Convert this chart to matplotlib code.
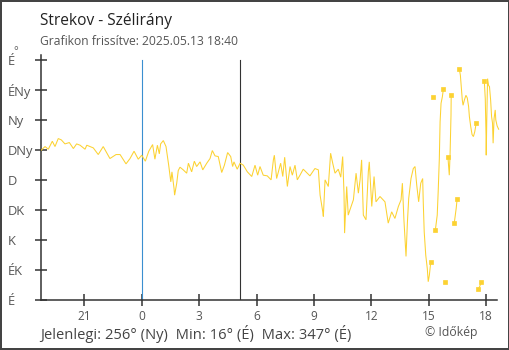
import numpy as np
import matplotlib
matplotlib.use("Agg")
import matplotlib.pyplot as plt

# ---- data (hours relative to midnight, wind direction in degrees; NaN = gap)
hours = [
    -5.31, -5.05, -4.88, -4.67, -4.53, -4.36, -4.20, -4.01, -3.78, -3.57, -3.40, -3.22,
    -2.96, -2.87, -2.53, -2.27, -2.01, -1.66, -1.34, -1.13, -0.82, -0.61, -0.40, -0.18,
    0.00, 0.19, 0.37, 0.57, 0.69, 0.82, 0.92, 0.99, 1.13, 1.27, 1.41, 1.52, 1.58, 1.69,
    1.72, 1.83, 1.91, 2.00, 2.17, 2.35, 2.44, 2.61, 2.75, 2.87, 3.05, 3.19, 3.40, 3.57,
    3.69, 3.83, 4.00, 4.18, 4.32, 4.49, 4.65, 4.75, 4.82, 4.99, 5.14, 5.31, 5.52, 5.75,
    5.92, 6.06, 6.18, 6.35, 6.56, 6.76, 6.88, 6.93, 7.05, 7.26, 7.37, 7.47, 7.61, 7.75,
    7.87, 8.01, 8.13, 8.27, 8.44, 8.79, 9.05, 9.23, 9.32, 9.46, 9.49, 9.58, 9.75, 9.87,
    9.98, 10.10, 10.27, 10.40, 10.50, 10.57, 10.60, 10.71, 10.79, 10.88, 11.06, 11.20,
    11.32, 11.41, 11.49, 11.58, 11.72, 11.84, 11.89, 12.02, 12.14, 12.24, 12.45, 12.71,
    12.88, 13.06, 13.23, 13.41, 13.55, 13.62, 13.70, 13.81, 13.88, 13.95, 14.07, 14.19,
    14.28, 14.37, 14.47, 14.58, 14.68, 14.71, 14.76, 14.84, 14.92, 14.97, 15.03, 15.10,
    15.17,
    15.24,
    15.29,
    15.34, 15.44, 15.49, 15.55, 15.59, 15.64, 15.71, 15.76,
    15.80,
    15.85,
    15.92,
    16.00, 16.07, 16.11, 16.16, 16.17,
    16.25,
    16.33, 16.43, 16.48,
    16.54,
    16.59, 16.65, 16.70, 16.75, 16.79, 16.86, 16.94, 17.01, 17.08, 17.12, 17.19, 17.26,
    17.33, 17.40, 17.48,
    17.54,
    17.59, 17.66, 17.74,
    17.82,
    17.90, 17.95, 17.99, 18.00, 18.03, 18.07, 18.12, 18.17, 18.23, 18.28, 18.33, 18.36,
    18.41, 18.47, 18.50, 18.57, 18.65,
]
degrees = [
    223, 230, 226, 238, 230, 242, 240, 234, 236, 227, 234, 232,
    226, 232, 228, 218, 230, 212, 218, 218, 204, 212, 223, 211,
    217, 208, 223, 233, 211, 232, 219, 234, 239, 230, 202, 177, 192, 167,
    157, 175, 194, 199, 195, 190, 205, 192, 208, 200, 207, 195, 205, 212,
    224, 216, 215, 191, 202, 221, 215, 200, 207, 196, 205, 202, 192, 185,
    202, 187, 200, 187, 186, 180, 210, 217, 182, 205, 185, 214, 170, 200,
    187, 202, 180, 187, 196, 186, 197, 195, 157, 132, 125, 180, 170, 220,
    205, 190, 196, 184, 215, 160, 100, 170, 127, 135, 150, 190,
    160, 180, 210, 127, 120, 192, 207, 140, 185, 147, 155, 147,
    115, 132, 122, 140, 150, 175, 120, 65, 115, 152, 182, 197,
    200, 172, 147, 175, 182, 147, 102, 67, 47, 27, 37, 56,
    np.nan,
    305,
    np.nan,
    104, 127, 162, 212, 267, 295, 305, 316,
    np.nan,
    27,
    np.nan,
    214, 187, 217, 277, 307,
    np.nan,
    115, 137, 151,
    np.nan,
    347, 337, 318, 300, 292, 300, 307, 303, 290, 275, 260, 248,
    245, 252, 266,
    np.nan,
    16, 20, 26,
    np.nan,
    328, 302, 247, 217, 272, 332, 322, 320, 300, 275, 265, 235,
    272, 285, 270, 261, 256,
]

direction_ticks = [0, 45, 90, 135, 180, 225, 270, 315, 360]
direction_labels = ["É", "ÉK", "K", "DK", "D", "DNy", "Ny", "ÉNy", "É"]
hour_ticks = [-3, 0, 3, 6, 9, 12, 15, 18]
hour_labels = ["21", "0", "3", "6", "9", "12", "15", "18"]
midnight = 0.0
marker_time = 5.14

title = "Strekov - Szélirány"
subtitle = "Grafikon frissítve: 2025.05.13 18:40"
footer = "Jelenlegi: 256° (Ny)  Min: 16° (É)  Max: 347° (É)"
credit = "© Időkép"

# ---- figure
plt.rcParams['font.family'] = ['Open Sans', 'DejaVu Sans']
W, H = 510, 350
fig = plt.figure(figsize=(W / 100, H / 100), dpi=100)
fig.patch.set_facecolor('white')
fig.patch.set_edgecolor('#444444')
fig.patch.set_linewidth(1.5)

left_px, right_px, top_px, bottom_px = 41, 500, 55, 299.7
ax = fig.add_axes([left_px / W, (H - bottom_px) / H,
                   (right_px - left_px) / W, (bottom_px - top_px) / H])

t = np.array(hours, dtype=float)
d = np.array(degrees, dtype=float)
line_color = '#fcd232'
ax.plot(t, d, color=line_color, lw=0.75, solid_joinstyle='miter', zorder=3)

# markers on points next to gaps
isn = np.isnan(d)
mk = np.zeros(len(d), dtype=bool)
for i in range(len(d)):
    if isn[i]:
        continue
    if (i > 0 and isn[i - 1]) or (i < len(d) - 1 and isn[i + 1]):
        mk[i] = True
ax.plot(t[mk], d[mk], linestyle='none', marker='s', ms=2.3, color=line_color,
        mec=line_color, mew=0.5, zorder=4)

ax.axvline(midnight, ymin=0, ymax=360 / 367.5, color='#3a8fd0', lw=0.8, zorder=2)
ax.axvline(marker_time, ymin=0, ymax=360 / 367.5, color='#333333', lw=0.8, zorder=2)

x0 = (left_px - 141.7) / 19.14
x1 = (right_px - 141.7) / 19.14
ax.set_xlim(x0, x1)
ax.set_ylim(0, 367.5)

for s in ['top', 'right']:
    ax.spines[s].set_visible(False)
for s in ['left', 'bottom']:
    ax.spines[s].set_color('#333333')
    ax.spines[s].set_linewidth(1.1)
ax.spines['bottom'].set_bounds(x0, (497 - 141.7) / 19.14)

ax.set_yticks(direction_ticks)
ax.set_yticklabels(direction_labels)
ax.set_xticks(hour_ticks)
ax.set_xticklabels(hour_labels)
ax.tick_params(axis='y', direction='inout', length=9.2, width=1.1, color='#333333',
               labelsize=9.3, labelcolor='#555555', pad=19.5)
ax.tick_params(axis='x', direction='inout', length=9.2, width=1.1, color='#333333',
               labelsize=8.6, labelcolor='#555555', pad=2.5)
for lab in ax.get_yticklabels():
    lab.set_horizontalalignment('left')

fig.text(13 / W, 1 - 52 / H, "°", fontsize=8, color='#555555', va='center', ha='left')
fig.text(40 / W, 1 - 25 / H, title, fontsize=11.2, color='#222222', va='baseline', ha='left')
fig.text(40 / W, 1 - 45 / H, subtitle, fontsize=8.7, color='#555555', va='baseline', ha='left')
fig.text(40 / W, 1 - 339 / H, footer, fontsize=10.6, color='#444444', va='baseline', ha='left')
fig.text(425 / W, 1 - 336 / H, credit, fontsize=8.8, color='#555555', va='baseline', ha='left')

fig.savefig('out.png', dpi=100, facecolor=fig.get_facecolor(), edgecolor=fig.get_edgecolor())
